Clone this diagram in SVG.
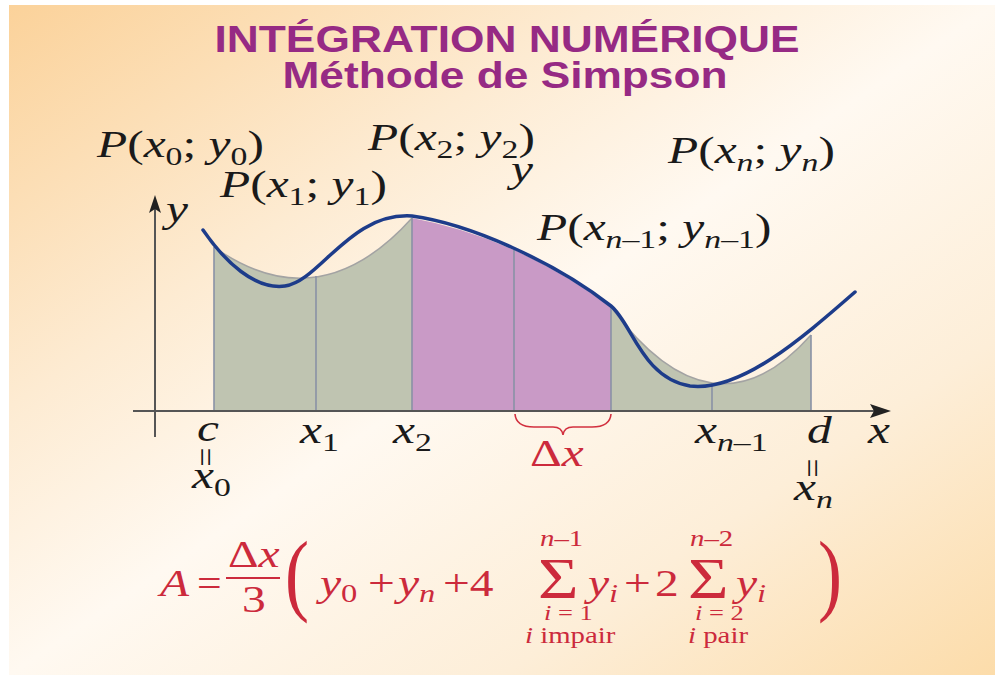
<svg xmlns="http://www.w3.org/2000/svg" width="995" height="675" viewBox="0 0 995 675">
<defs>
<linearGradient id="bg" x1="0" y1="0" x2="1" y2="1">
<stop offset="0" stop-color="#fbd29a"/>
<stop offset="0.3" stop-color="#fdebd2"/>
<stop offset="0.5" stop-color="#fff9f1"/>
<stop offset="0.75" stop-color="#fdeed8"/>
<stop offset="1" stop-color="#fcdcaa"/>
</linearGradient>
</defs>
<style>
.title{font-family:"Liberation Sans",Arial,sans-serif;font-weight:bold;fill:#962a84;font-size:37px}
.m{font-family:"Liberation Serif","Times New Roman",serif;font-size:38px;fill:#1a1a1a}
.i{font-style:italic}
.s{font-size:26px}
.r{fill:#cc2a3c}
.f{font-family:"Liberation Serif","Times New Roman",serif;fill:#cc2a3c}
.eq{font-family:"Liberation Serif","Times New Roman",serif;font-size:34px;fill:#1a1a1a}
.grey{fill:#bfc4b1}
.pur{fill:#c99ac6}
.div{stroke:#8a92a6;stroke-width:1.6;fill:none}
.par{stroke:#a3a3a3;stroke-width:1.5;fill:none}
.axis{stroke:#555;stroke-width:2;fill:none}
.head{fill:#222}
.curve{stroke:#1d3c8a;stroke-width:3.5;fill:none;stroke-linecap:round}
</style>
<rect x="0" y="0" width="995" height="675" fill="#ffffff"/>
<rect id="background" x="9" y="5" width="986" height="670" fill="url(#bg)"/>

<g id="title">
<text class="title" x="507" y="52" text-anchor="middle" textLength="585" lengthAdjust="spacingAndGlyphs">INTÉGRATION NUMÉRIQUE</text>
<text class="title" x="505" y="88" text-anchor="middle" textLength="445" lengthAdjust="spacingAndGlyphs">Méthode de Simpson</text>
</g>

<g id="regions">
<path id="region-left" class="grey" d="M214,411 L214,247 Q319,321.5 412,218 L412,411 Z"/>
<path id="region-mid" class="pur" d="M412,411 L412,218 Q516.5,237.5 611,307 L611,411 Z"/>
<path id="region-right" class="grey" d="M611,411 L611,307 Q713,445 811,335 L811,411 Z"/>
<path class="par" d="M214,247 Q319,321.5 412,218"/>
<path class="par" d="M611,307 Q713,445 811,335"/>
<g id="dividers">
<line class="div" x1="214" y1="247" x2="214" y2="411"/>
<line class="div" x1="316" y1="276" x2="316" y2="411"/>
<line class="div" x1="412" y1="218" x2="412" y2="411"/>
<line class="div" x1="514" y1="250" x2="514" y2="411"/>
<line class="div" x1="611" y1="307" x2="611" y2="411"/>
<line class="div" x1="712" y1="383" x2="712" y2="411"/>
<line class="div" x1="811" y1="335" x2="811" y2="411"/>
</g>
</g>

<g id="connectors">
<line id="x-axis" class="axis" x1="133" y1="411" x2="876" y2="411"/>
<polygon class="head" points="891,411 870,404 874,411 870,418"/>
<line id="y-axis" class="axis" x1="155" y1="437" x2="155" y2="208"/>
<polygon class="head" points="155,195 149,213 155,209 161,213"/>
<path id="brace" d="M515,414 Q516,427 534,427 L553,427 Q562,427 563,435 Q564,427 573,427 L592,427 Q610,427 611,414" fill="none" stroke="#d2303f" stroke-width="1.6"/>
</g>

<g id="curve">
<path class="curve" d="M203,230 C225,262 255,290 285,286 C320,281 350,212 412,216 C470,224 555,262 611,306 C632,323 642,378 690,386 C740,392 800,340 855,292"/>
</g>

<g id="point-labels">
<g id="p0"><text class="m" transform="translate(97,157) scale(1.3,1)"><tspan class="i">P</tspan>(<tspan class="i">x</tspan><tspan class="s" dy="8">0</tspan><tspan dy="-8">; </tspan><tspan class="i">y</tspan><tspan class="s" dy="8">0</tspan><tspan dy="-8">)</tspan></text></g>
<g id="p1"><text class="m" transform="translate(220,197) scale(1.3,1)"><tspan class="i">P</tspan>(<tspan class="i">x</tspan><tspan class="s" dy="8">1</tspan><tspan dy="-8">; </tspan><tspan class="i">y</tspan><tspan class="s" dy="8">1</tspan><tspan dy="-8">)</tspan></text></g>
<g id="p2"><text class="m" transform="translate(368,150) scale(1.3,1)"><tspan class="i">P</tspan>(<tspan class="i">x</tspan><tspan class="s" dy="8">2</tspan><tspan dy="-8">; </tspan><tspan class="i">y</tspan><tspan class="s" dy="8">2</tspan><tspan dy="-8">)</tspan></text></g>
<g id="y-stray"><text class="m i" transform="translate(511,182) scale(1.3,1)">y</text></g>
<g id="pn"><text class="m" transform="translate(668,163) scale(1.3,1)"><tspan class="i">P</tspan>(<tspan class="i">x</tspan><tspan class="s i" dy="8">n</tspan><tspan dy="-8">; </tspan><tspan class="i">y</tspan><tspan class="s i" dy="8">n</tspan><tspan dy="-8">)</tspan></text></g>
<g id="pn1"><text class="m" transform="translate(537,240) scale(1.3,1)"><tspan class="i">P</tspan>(<tspan class="i">x</tspan><tspan class="s" dy="8"><tspan class="i">n</tspan>–1</tspan><tspan dy="-8">; </tspan><tspan class="i">y</tspan><tspan class="s" dy="8"><tspan class="i">n</tspan>–1</tspan><tspan dy="-8">)</tspan></text></g>
</g>

<g id="axis-labels">
<text class="m i" transform="translate(166,222) scale(1.3,1)">y</text>
<text class="m i" transform="translate(197,441) scale(1.3,1)">c</text>
<text class="eq" transform="translate(194,457) rotate(90)" text-anchor="middle">=</text>
<text class="m" transform="translate(192,488) scale(1.3,1)"><tspan class="i">x</tspan><tspan class="s" dy="8">0</tspan></text>
<text class="m" transform="translate(300,443) scale(1.3,1)"><tspan class="i">x</tspan><tspan class="s" dy="8">1</tspan></text>
<text class="m" transform="translate(393,443) scale(1.3,1)"><tspan class="i">x</tspan><tspan class="s" dy="8">2</tspan></text>
<text class="m r" transform="translate(530,466) scale(1.3,1)">Δ<tspan class="i">x</tspan></text>
<text class="m" transform="translate(695,443) scale(1.3,1)"><tspan class="i">x</tspan><tspan class="s" dy="8"><tspan class="i">n</tspan>–1</tspan></text>
<text class="m i" transform="translate(807,443) scale(1.3,1)">d</text>
<text class="eq" transform="translate(801,468) rotate(90)" text-anchor="middle">=</text>
<text class="m" transform="translate(794,500) scale(1.3,1)"><tspan class="i">x</tspan><tspan class="s i" dy="8">n</tspan></text>
<text class="m i" transform="translate(868,443) scale(1.3,1)">x</text>
</g>

<g id="formula">
<text class="f i" transform="translate(160,596) scale(1.25,1)" style="font-size:38px">A</text>
<text class="f" transform="translate(197,596) scale(1.15,1)" style="font-size:38px">=</text>
<text class="f" transform="translate(228,567) scale(1.25,1)" style="font-size:38px">Δ<tspan class="i">x</tspan></text>
<line x1="226" y1="578" x2="280" y2="578" stroke="#cc2a3c" stroke-width="2"/>
<text class="f" transform="translate(242,612) scale(1.25,1)" style="font-size:38px">3</text>
<text class="f" transform="translate(285,604) scale(0.8,1)" style="font-size:90px">(</text>
<text class="f" transform="translate(320,596) scale(1.25,1)" style="font-size:38px"><tspan class="i">y</tspan><tspan dy="6" style="font-size:26px">0</tspan></text>
<text class="f" transform="translate(368,596) scale(1.25,1)" style="font-size:38px">+</text>
<text class="f" transform="translate(398,596) scale(1.25,1)" style="font-size:38px"><tspan class="i">y</tspan><tspan class="i" dy="6" style="font-size:26px">n</tspan></text>
<text class="f" transform="translate(443,596) scale(1.25,1)" style="font-size:38px">+4</text>
<text class="f" transform="translate(540,546) scale(1.2,1)" style="font-size:24px"><tspan class="i">n</tspan>–1</text>
<text class="f" transform="translate(538,598) scale(1.2,1)" style="font-size:58px">Σ</text>
<text class="f" transform="translate(544,620) scale(1.2,1)" style="font-size:22px"><tspan class="i">i</tspan> = 1</text>
<text class="f" transform="translate(525,643) scale(1.2,1)" style="font-size:24px"><tspan class="i">i</tspan> impair</text>
<text class="f" transform="translate(588,596) scale(1.25,1)" style="font-size:38px"><tspan class="i">y</tspan><tspan class="i" dy="6" style="font-size:26px">i</tspan></text>
<text class="f" transform="translate(624,596) scale(1.25,1)" style="font-size:38px">+</text>
<text class="f" transform="translate(655,596) scale(1.25,1)" style="font-size:38px">2</text>
<text class="f" transform="translate(690,546) scale(1.2,1)" style="font-size:24px"><tspan class="i">n</tspan>–2</text>
<text class="f" transform="translate(688,598) scale(1.2,1)" style="font-size:58px">Σ</text>
<text class="f" transform="translate(695,620) scale(1.2,1)" style="font-size:22px"><tspan class="i">i</tspan> = 2</text>
<text class="f" transform="translate(688,643) scale(1.2,1)" style="font-size:24px"><tspan class="i">i</tspan> pair</text>
<text class="f" transform="translate(736,596) scale(1.25,1)" style="font-size:38px"><tspan class="i">y</tspan><tspan class="i" dy="6" style="font-size:26px">i</tspan></text>
<text class="f" transform="translate(818,604) scale(0.8,1)" style="font-size:90px">)</text>
</g>
</svg>
